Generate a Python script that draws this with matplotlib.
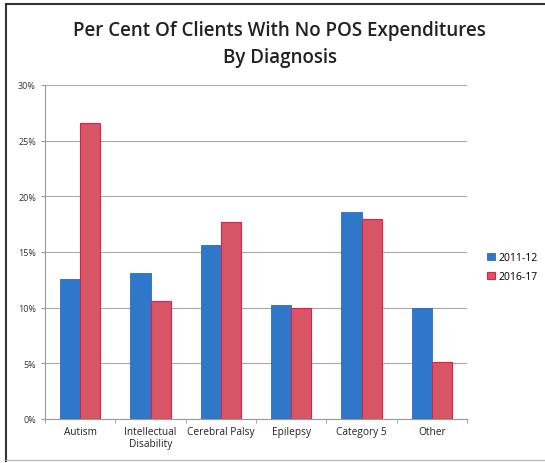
import matplotlib.pyplot as plt
from matplotlib.lines import Line2D
import numpy as np

categories = ["Autism", "Intellectual\nDisability", "Cerebral Palsy", "Epilepsy", "Category 5", "Other"]
pct_2011 = [12.6, 13.1, 15.6, 10.2, 18.6, 9.95]
pct_2016 = [26.6, 10.6, 17.7, 10.0, 18.0, 5.1]

plt.rcParams['font.family'] = ['Open Sans', 'DejaVu Sans']

fig = plt.figure(figsize=(5.45, 4.64), dpi=100)
ax = fig.add_axes([45 / 545, 1 - 420 / 464, 422 / 545, 334 / 464])

x = np.arange(len(categories))
w = 0.285
ax.bar(x - w / 2, pct_2011, w, color="#2f78c9", edgecolor="#2a6cc0", linewidth=0.6, label="2011-12", zorder=3)
ax.bar(x + w / 2, pct_2016, w, color="#d85566", edgecolor="#e0204a", linewidth=0.8, label="2016-17", zorder=3)

ax.set_xlim(-0.5, len(categories) - 0.5)
ax.set_ylim(0, 30)
ax.set_yticks(range(0, 31, 5))
ax.set_yticklabels([f"{v}%" for v in range(0, 31, 5)], fontsize=6.5, color="#333333")
ax.set_xticks(x)
ax.set_xticklabels(categories, fontsize=7.3, color="#222222", linespacing=1.1)
ax.tick_params(axis='x', length=0, pad=5)
ax.set_xticks(np.arange(-0.5, len(categories)), minor=True)
ax.tick_params(axis='x', which='minor', length=3, color="#999999")
ax.tick_params(axis='y', length=3, color="#999999")
ax.yaxis.grid(True, color="#a8a8a8", linewidth=0.8, zorder=0)
for s in ["top", "right"]:
    ax.spines[s].set_visible(False)
ax.spines["left"].set_color("#999999")
ax.spines["bottom"].set_color("#999999")

fig.text(0.513, 1 - 31 / 464, "Per Cent Of Clients With No POS Expenditures", ha="center", va="center",
         fontsize=13.5, fontweight="semibold", color="#222222")
fig.text(0.513, 1 - 58 / 464, "By Diagnosis", ha="center", va="center",
         fontsize=13.5, fontweight="semibold", color="#222222")

ax.legend(loc="center left", bbox_to_anchor=(478 / 545, 1 - 268 / 464), bbox_transform=fig.transFigure,
          frameon=False, fontsize=7.5, handlelength=0.7, handleheight=0.7, handletextpad=0.4, labelspacing=0.8)

# scanned chart frame: dark left and top edges, faint bottom edge
fig.add_artist(Line2D([6 / 545, 6 / 545], [1 - 5 / 464, 1 - 462 / 464], color="#333333", linewidth=1.5))
fig.add_artist(Line2D([6 / 545, 1], [1 - 5 / 464, 1 - 5 / 464], color="#333333", linewidth=1.5))
fig.add_artist(Line2D([6 / 545, 1], [1 - 461 / 464, 1 - 461 / 464], color="#bbbbbb", linewidth=1.0))

fig.savefig("out.png", dpi=100)
